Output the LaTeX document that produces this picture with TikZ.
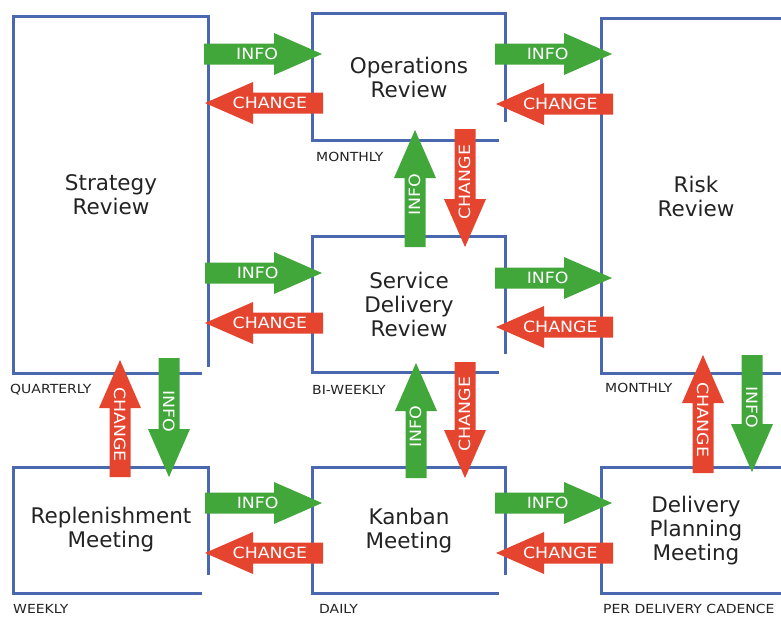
\documentclass[tikz,border=0pt]{standalone}
\usepackage{fontspec}
\setmainfont{DejaVu Sans}
\newfontfamily\arrfont[FakeStretch=1.12]{DejaVu Sans}
\usetikzlibrary{calc}
\definecolor{boxblue}{RGB}{74,104,176}
\definecolor{infogreen}{RGB}{66,167,58}
\definecolor{changered}{RGB}{229,69,47}
\definecolor{inkgray}{RGB}{35,35,35}
\newcommand\FatArr[6]{% #1 colour, #2 tail, #3 tip, #4 rotation, #5 text, #6 name
  \coordinate (#6h) at ($(#3)!48pt!(#2)$);
  \fill[#1] ($(#2)!10.5pt!90:(#3)$) -- ($(#6h)!10.5pt!90:(#3)$) -- ($(#6h)!21pt!90:(#3)$)
    -- (#3) -- ($(#6h)!21pt!-90:(#3)$) -- ($(#6h)!10.5pt!-90:(#3)$)
    -- ($(#2)!10.5pt!-90:(#3)$) -- cycle;
  \node[arrtxt, rotate=#4] (#6) at ($(#2)!0.45!(#3)$) {#5};
}
\begin{document}
\begin{tikzpicture}[x=1pt,y=-1pt,
  boxnode/.style={inner sep=0pt, align=center, text=inkgray,
    font=\fontsize{21.5}{24}\selectfont},
  border/.style={draw=boxblue, line width=3pt},
  arrtxt/.style={inner sep=0pt, text=white, font=\arrfont\fontsize{15.5}{16}\selectfont},
  cadence/.style={inner sep=0pt, anchor=west, text=inkgray, font=\arrfont\fontsize{12.5}{13}\selectfont}]
\useasboundingbox (0,0) rectangle (781,616);
\fill[white] (0,0) rectangle (781,616);

% boxes
\node[boxnode, minimum width=194pt, minimum height=356pt] (strat) at (111,195) {Strategy\\Review};
\node[boxnode, minimum width=192pt, minimum height=126pt] (ops) at (409,77) {Operations\\Review};
\node[boxnode, minimum width=192pt, minimum height=135pt] (serv) at (409,304.5) {Service\\Delivery\\Review};
\node[boxnode, minimum width=188pt, minimum height=354pt] (risk) at (696,196) {Risk\\Review};
\node[boxnode, minimum width=194pt, minimum height=125pt] (repl) at (111,530.5) {\raisebox{4pt}{\begin{tabular}{@{}c@{}}Replenishment\\Meeting\end{tabular}}};
\node[boxnode, minimum width=192pt, minimum height=125pt] (kan) at (409,530.5) {Kanban\\Meeting};
\node[boxnode, minimum width=188pt, minimum height=125pt] (deliv) at (696,530.5) {Delivery\\Planning\\Meeting};

% borders (bottom-right corners left open)
\draw[border] ([xshift=-6pt]strat.south east) -- (strat.south west) -- (strat.north west) -- (strat.north east) -- ([yshift=6pt]strat.south east);
\foreach \b in {ops,serv,repl,kan}{
  \draw[border] ([xshift=-6pt]\b.south east) -- (\b.south west) -- (\b.north west) -- (\b.north east) -- ([yshift=18pt]\b.south east);
}
\foreach \b in {risk,deliv}{
  \draw[border] (\b.south east) -- (\b.south west) -- (\b.north west) -- (\b.north east);
}

% cadence labels
\node[cadence] (cq) at (10,390) {QUARTERLY};
\node[cadence] (cm1) at (316,157) {MONTHLY};
\node[cadence] (cb) at (312,390) {BI-WEEKLY};
\node[cadence] (cm2) at (605,388) {MONTHLY};
\node[cadence] (cw) at (13,609) {WEEKLY};
\node[cadence] (cd) at (319,609) {DAILY};
\node[cadence] (cp) at (603,609) {PER DELIVERY CADENCE};

% arrow end points
\coordinate (p1a) at (204,54);  \coordinate (p1b) at (322,54);
\coordinate (p2a) at (323,103); \coordinate (p2b) at (205,103);
\coordinate (p3a) at (495,54);  \coordinate (p3b) at (612,54);
\coordinate (p4a) at (613,104); \coordinate (p4b) at (496,104);
\coordinate (p5a) at (205,273); \coordinate (p5b) at (322,273);
\coordinate (p6a) at (323,323); \coordinate (p6b) at (205,323);
\coordinate (p7a) at (495,278); \coordinate (p7b) at (612,278);
\coordinate (p8a) at (613,327); \coordinate (p8b) at (496,327);
\coordinate (p9a) at (205,503); \coordinate (p9b) at (322,503);
\coordinate (p10a) at (323,553); \coordinate (p10b) at (205,553);
\coordinate (p11a) at (495,503); \coordinate (p11b) at (612,503);
\coordinate (p12a) at (613,553); \coordinate (p12b) at (496,553);
\coordinate (v1a) at (415,247); \coordinate (v1b) at (415,130);
\coordinate (v2a) at (465,129); \coordinate (v2b) at (465,247);
\coordinate (v3a) at (416,478); \coordinate (v3b) at (416,363);
\coordinate (v4a) at (465,362); \coordinate (v4b) at (465,478);
\coordinate (v5a) at (120,477); \coordinate (v5b) at (120,360);
\coordinate (v6a) at (169,358); \coordinate (v6b) at (169,477);
\coordinate (v7a) at (703,473); \coordinate (v7b) at (703,355);
\coordinate (v8a) at (752,355); \coordinate (v8b) at (752,472);

% horizontal arrows
\FatArr{infogreen}{p1a}{p1b}{0}{INFO}{a1}
\FatArr{changered}{p2a}{p2b}{0}{CHANGE}{a2}
\FatArr{infogreen}{p3a}{p3b}{0}{INFO}{a3}
\FatArr{changered}{p4a}{p4b}{0}{CHANGE}{a4}
\FatArr{infogreen}{p5a}{p5b}{0}{INFO}{a5}
\FatArr{changered}{p6a}{p6b}{0}{CHANGE}{a6}
\FatArr{infogreen}{p7a}{p7b}{0}{INFO}{a7}
\FatArr{changered}{p8a}{p8b}{0}{CHANGE}{a8}
\FatArr{infogreen}{p9a}{p9b}{0}{INFO}{a9}
\FatArr{changered}{p10a}{p10b}{0}{CHANGE}{a10}
\FatArr{infogreen}{p11a}{p11b}{0}{INFO}{a11}
\FatArr{changered}{p12a}{p12b}{0}{CHANGE}{a12}
% vertical arrows
\FatArr{infogreen}{v1a}{v1b}{90}{INFO}{b1}
\FatArr{changered}{v2a}{v2b}{90}{CHANGE}{b2}
\FatArr{infogreen}{v3a}{v3b}{90}{INFO}{b3}
\FatArr{changered}{v4a}{v4b}{90}{CHANGE}{b4}
\FatArr{changered}{v5a}{v5b}{-90}{CHANGE}{b5}
\FatArr{infogreen}{v6a}{v6b}{-90}{INFO}{b6}
\FatArr{changered}{v7a}{v7b}{-90}{CHANGE}{b7}
\FatArr{infogreen}{v8a}{v8b}{-90}{INFO}{b8}
\end{tikzpicture}
\end{document}
